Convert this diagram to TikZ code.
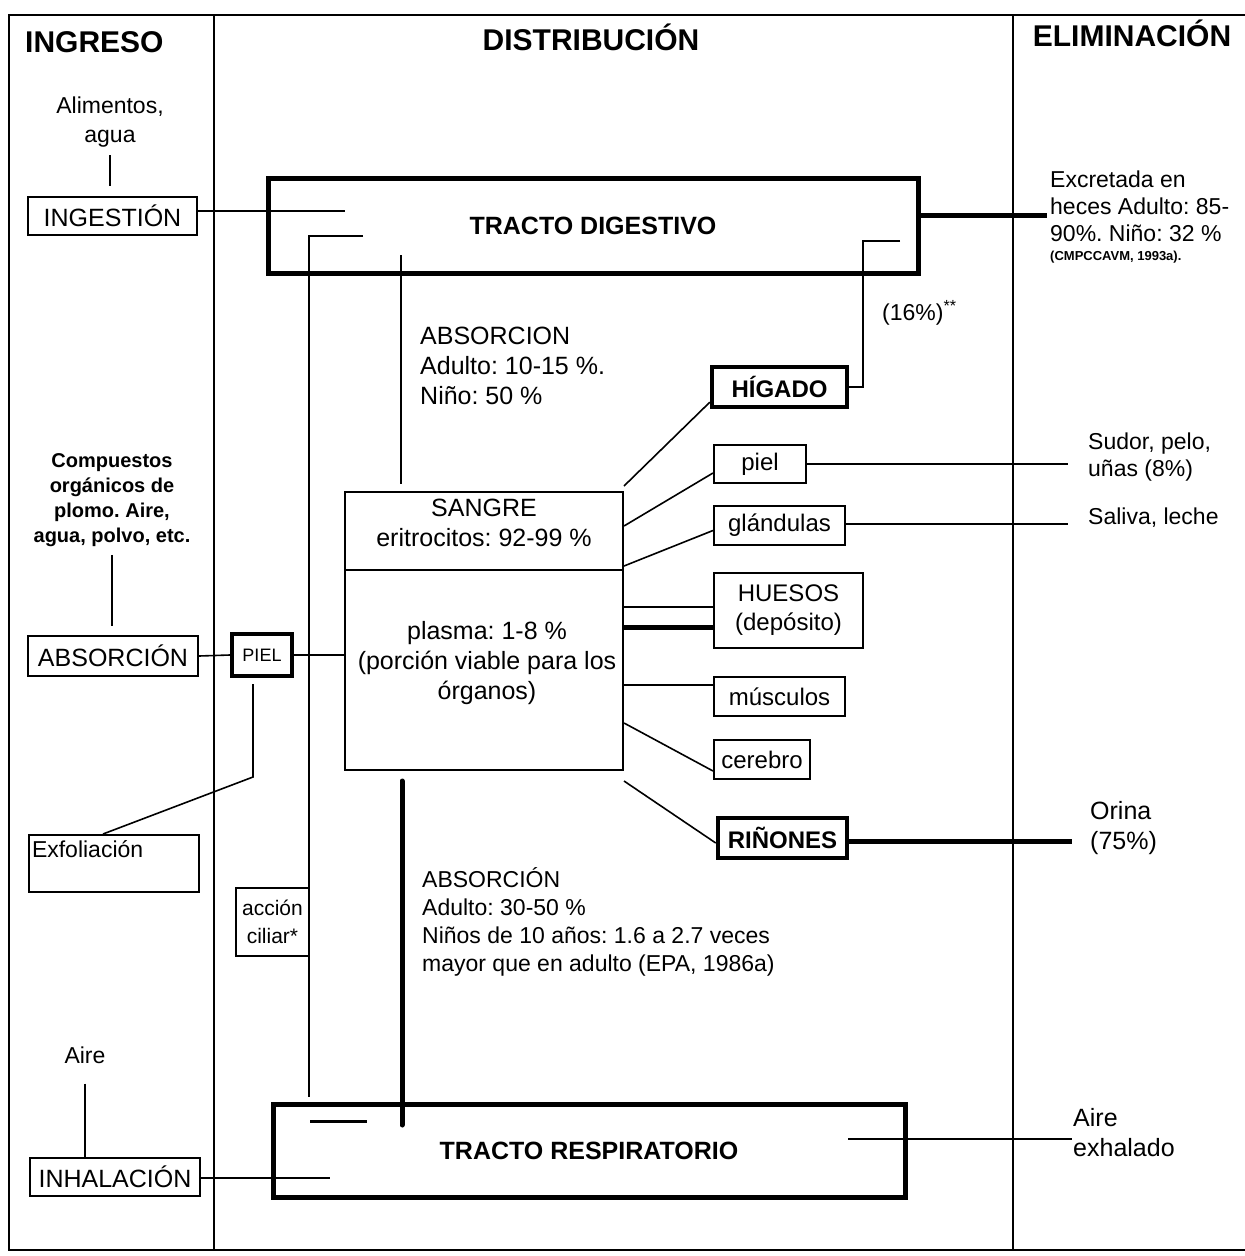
\documentclass[tikz,border=0pt]{standalone}
\usepackage{fontspec}
\setmainfont{Liberation Sans}
\frenchspacing
\newcommand{\fsz}[2]{\fontsize{#1pt}{#2pt}\selectfont}

\begin{document}
\begin{tikzpicture}[x=1pt, y=-1pt,
  txt/.style={inner sep=0pt, font=\fsz{25}{30}, align=left},
  box/.style={draw, line width=2pt, inner sep=0pt, font=\fsz{24}{29}, align=center},
  heavybox/.style={box, line width=4.5pt},
  link/.style={line width=1.6pt},
  bar/.style={line width=5pt},
  head/.style={inner sep=0pt, font=\bfseries\fsz{30}{36}}]

\useasboundingbox (0,0) rectangle (1245,1256);

\draw[line width=2pt] (1245,15) -- (9,15) -- (9,1250) -- (1245,1250);
\draw[link] (214,15) -- (214,1250);
\draw[link] (1013,15) -- (1013,1250);

\node[head, anchor=west] (ingreso) at (25,42) {INGRESO};
\node[head] (distrib) at (591,37) {DISTRIBUCIÓN};
\node[head] (elim) at (1132,33) {ELIMINACIÓN};

\node[txt, align=center, font=\fsz{23}{29}] (food) at (110,122) {Alimentos,\\agua};
\node[box, minimum width=169, minimum height=38, font=\fsz{25}{30}] (ingest) at (112.5,216) {INGESTIÓN};
\node[txt, align=center, font=\bfseries\fsz{20}{25}] (comp) at (112,500) {Compuestos\\orgánicos de\\plomo. Aire,\\agua, polvo, etc.};
\node[box, minimum width=170, minimum height=40, font=\fsz{25}{30}] (absorb) at (113,656) {ABSORCIÓN};
\node[heavybox, line width=4pt, minimum width=60, minimum height=42, font=\fsz{18}{22}] (pielbox) at (262,655) {PIEL};
\node[box, minimum width=170, minimum height=57, text width=164, align=left, font=\fsz{23}{29}] (exfol) at (114,863.5) {Exfoliación\\\mbox{}};
\node[box, minimum width=73, minimum height=68, font=\fsz{21}{28}] (ciliar) at (272.5,922) {acción\\ciliar*};
\node[txt, font=\fsz{23}{28}] (air) at (85,1055) {Aire};
\node[box, minimum width=170, minimum height=38, font=\fsz{25}{30}] (inhal) at (115,1177) {INHALACIÓN};

\node[heavybox, line width=5pt, minimum width=650, minimum height=95, font=\bfseries\fsz{25}{30}] (dig) at (593,225.5) {TRACTO DIGESTIVO};
\node[heavybox, line width=5pt, minimum width=632, minimum height=93, font=\bfseries\fsz{25}{30}] (resp) at (589,1150.5) {TRACTO RESPIRATORIO};
\node[txt, anchor=west] (absup) at (420,366) {ABSORCION\\Adulto: 10-15 \%.\\Niño: 50 \%};
\node[txt, anchor=west, font=\fsz{23}{28}] (abslow) at (422,922) {ABSORCIÓN\\Adulto: 30-50 \%\\Niños de 10 años: 1.6 a 2.7 veces\\mayor que en adulto (EPA, 1986a)};

\node[box, minimum width=278, minimum height=278] (blood) at (484,631) {};
\draw[link] (blood.west |- 0,570) -- (blood.east |- 0,570);
\node[txt, align=center] (rbc) at (484,523) {SANGRE\\eritrocitos: 92-99 \%};
\node[txt, align=center] (plasma) at (487,663) {plasma: 1-8 \%\\(porción viable para los\\órganos)};

\node[heavybox, minimum width=135, minimum height=40, font=\bfseries\fsz{24}{29}] (liver) at (779.5,387) {HÍGADO};
\node[box, minimum width=92, minimum height=38] (skin) at (760,464) {piel};
\node[box, minimum width=131, minimum height=39] (gland) at (779.5,525.5) {glándulas};
\node[box, minimum width=149, minimum height=75] (bones) at (788.5,610.5) {HUESOS\\(depósito)};
\node[box, minimum width=131, minimum height=39] (musc) at (779.5,696.5) {músculos};
\node[box, minimum width=96, minimum height=39] (brain) at (762,759.5) {cerebro};
\node[heavybox, minimum width=129, minimum height=40, font=\bfseries\fsz{24}{29}] (kidney) at (782.5,838) {RIÑONES};

\node[txt, anchor=west, font=\fsz{23}{27}] (pct) at (882,313) {(16\%)\textsuperscript{**}};
\node[txt, anchor=west, font=\fsz{23}{27}] (excr) at (1050,206) {Excretada en\\heces Adulto: 85-\\90\%. Niño: 32 \%};
\node[txt, anchor=west, font=\bfseries\fsz{13}{15}] (cite) at (1050,257) {(CMPCCAVM, 1993a).};
\node[txt, anchor=west, font=\fsz{23}{27}] (sweat) at (1088,457) {Sudor, pelo,\\uñas (8\%)};
\node[txt, anchor=west, font=\fsz{23}{27}] (saliva) at (1088,518) {Saliva, leche};
\node[txt, anchor=west, font=\fsz{25}{30}] (urine) at (1090,828) {Orina\\(75\%)};
\node[txt, anchor=west, font=\fsz{25}{30}] (exhaled) at (1073,1133) {Aire\\exhalado};

\coordinate (dig in) at (345,211);
\coordinate (cil a) at (363,236);
\coordinate (cil b) at (309,1097);
\coordinate (abs top) at (401,255);
\coordinate (bile a) at (900,241);
\coordinate (bile b) at (863,241);
\coordinate (feces) at (1047,215);
\coordinate (sweat end) at (1068,464);
\coordinate (saliva end) at (1068,524);
\coordinate (urine end) at (1072,841);
\coordinate (abs bot) at (402,1125);
\coordinate (cil c) at (310,1121);
\coordinate (cil d) at (367,1121);
\coordinate (resp in) at (330,1178);
\coordinate (exh a) at (848,1139);
\coordinate (exh b) at (1072,1139);
\coordinate (exf bend) at (253,777);

\draw[link, shorten <=8pt, shorten >=10pt] (food.south) -- (food.south |- ingest.north);
\draw[link] (ingest.east |- dig in) -- (dig in);
\draw[link] (cil a) -| (cil b);
\draw[link, shorten >=7pt] (abs top) -- (abs top |- blood.north);
\draw[link] (bile a) -- (bile b) |- (liver.east);
\draw[bar] (dig.east |- feces) -- (feces);

\draw[link, shorten <=8pt, shorten >=9pt] (comp.south) -- (comp.south |- absorb.north);
\draw[link] (absorb.east) -- (pielbox.west);
\draw[link] (pielbox.east) -- (pielbox.east -| blood.west);
\draw[link, shorten <=6pt] (exf bend |- pielbox.south) -- (exf bend) -- ([xshift=-11pt]exfol.north);
\draw[link, shorten <=20pt] (air.south) -- (air.south |- inhal.north);
\draw[link] (inhal.east |- resp in) -- (resp in);
\draw[line width=3pt] (cil c) -- (cil d);
\draw[bar, line cap=round, shorten <=10pt] (abs bot |- blood.south) -- (abs bot);
\draw[link] (exh a) -- (exh b);

\draw[link] ([yshift=5pt]blood.north east) -- ([yshift=7pt]liver.south west);
\draw[link] ([yshift=-35pt]blood.north east) -- ([yshift=11pt]skin.south west);
\draw[link] ([yshift=-75pt]blood.north east) -- ([yshift=-5pt]gland.west);
\draw[link] (blood.east |- 0,607) -- (bones.west |- 0,607);
\draw[bar] (blood.east |- 0,627) -- (bones.west |- 0,627);
\draw[link] (blood.east |- 0,685) -- (musc.west |- 0,685);
\draw[link] (blood.east |- 0,723) -- ([yshift=9pt]brain.south west);
\draw[link] ([yshift=-10pt]blood.south east) -- ([yshift=-5pt]kidney.west);

\draw[link] (skin.east) -- (sweat end);
\draw[link] (gland.east |- saliva end) -- (saliva end);
\draw[bar] (kidney.east |- urine end) -- (urine end);

\end{tikzpicture}
\end{document}
